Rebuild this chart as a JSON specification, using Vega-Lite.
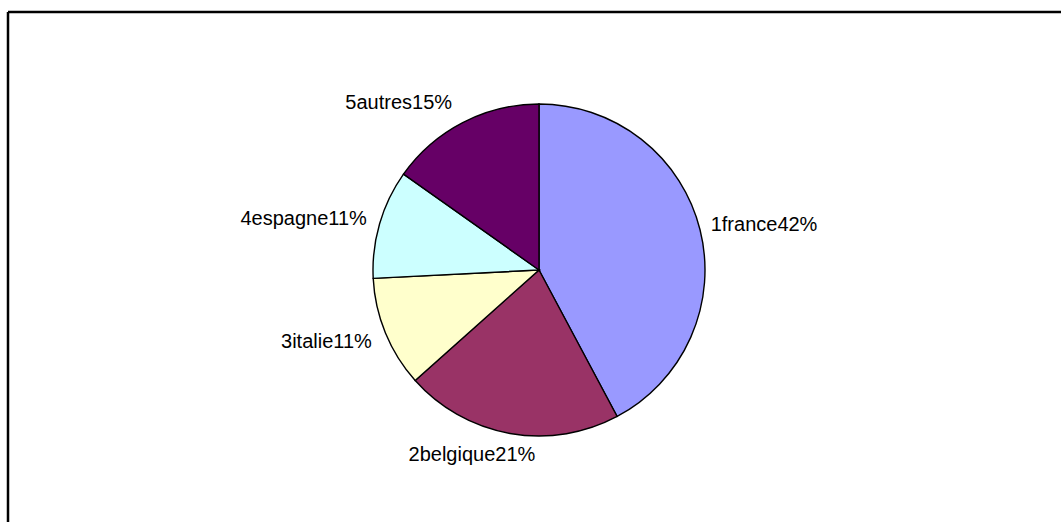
{
  "$schema": "https://vega.github.io/schema/vega-lite/v6.json",
  "width": 1062,
  "height": 516,
  "autosize": {"type": "none"},
  "padding": {"left": 8, "top": 12, "right": -9, "bottom": -6},
  "background": "white",
  "view": {"stroke": "black", "strokeWidth": 2.5, "strokeDash": [1062, 1578, 516, 0]},
  "config": {"font": "Liberation Sans"},
  "data": {
    "values": [
      {"country": "1france", "value": 42.2, "label": "1france42%"},
      {"country": "2belgique", "value": 21.2, "label": "2belgique21%"},
      {"country": "3italie", "value": 10.8, "label": "3italie11%"},
      {"country": "4espagne", "value": 10.6, "label": "4espagne11%"},
      {"country": "5autres", "value": 15.2, "label": "5autres15%"}
    ]
  },
  "encoding": {
    "theta": {"field": "value", "type": "quantitative", "stack": true},
    "order": {"field": "country", "type": "nominal", "sort": "ascending"},
    "detail": {"field": "country", "type": "nominal"}
  },
  "layer": [
    {
      "mark": {"type": "arc", "outerRadius": 166, "stroke": "black", "strokeWidth": 1.4},
      "encoding": {
        "color": {
          "field": "country",
          "type": "nominal",
          "scale": {
            "domain": ["1france", "2belgique", "3italie", "4espagne", "5autres"],
            "range": ["#9999FF", "#993366", "#FFFFCC", "#CCFFFF", "#660066"]
          },
          "legend": null
        }
      }
    },
    {
      "mark": {"type": "text", "radius": 166, "fontSize": 20, "align": "center", "baseline": "middle", "dx": 64, "dy": -5, "color": "black"},
      "encoding": {"text": {"condition": {"test": "datum.country === '1france'", "field": "label"}, "value": ""}}
    },
    {
      "mark": {"type": "text", "radius": 166, "fontSize": 20, "align": "center", "baseline": "middle", "dx": -38, "dy": 22, "color": "black"},
      "encoding": {"text": {"condition": {"test": "datum.country === '2belgique'", "field": "label"}, "value": ""}}
    },
    {
      "mark": {"type": "text", "radius": 166, "fontSize": 20, "align": "center", "baseline": "middle", "dx": -59, "dy": 9, "color": "black"},
      "encoding": {"text": {"condition": {"test": "datum.country === '3italie'", "field": "label"}, "value": ""}}
    },
    {
      "mark": {"type": "text", "radius": 166, "fontSize": 20, "align": "center", "baseline": "middle", "dx": -76, "dy": -5, "color": "black"},
      "encoding": {"text": {"condition": {"test": "datum.country === '4espagne'", "field": "label"}, "value": ""}}
    },
    {
      "mark": {"type": "text", "radius": 166, "fontSize": 20, "align": "center", "baseline": "middle", "dx": -64, "dy": -20, "color": "black"},
      "encoding": {"text": {"condition": {"test": "datum.country === '5autres'", "field": "label"}, "value": ""}}
    }
  ]
}
